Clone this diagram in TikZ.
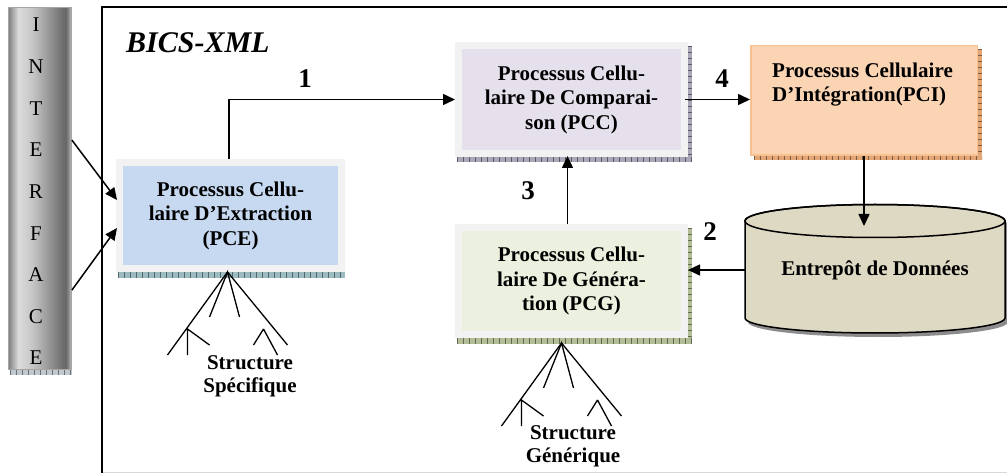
\documentclass[tikz,border=0pt]{standalone}
\usepackage{fontspec}
\setmainfont{Liberation Serif}
\usetikzlibrary{arrows.meta,calc}

\definecolor{ifA}{HTML}{808080}
\definecolor{ifB}{HTML}{DCDCDC}
\definecolor{ifC}{HTML}{C4C4C4}
\definecolor{ifD}{HTML}{666666}
\definecolor{ifE}{HTML}{8A8A8A}
\definecolor{ifF}{HTML}{CCCCCC}
\pgfdeclarehorizontalshading{ifaceshade}{100bp}{color(0bp)=(ifA); color(25bp)=(ifA); color(32.8bp)=(ifB); color(44.5bp)=(ifC); color(70.3bp)=(ifD); color(72.7bp)=(ifE); color(75bp)=(ifF); color(100bp)=(ifF)}

\definecolor{rim}{HTML}{F2F2F2}
\definecolor{pceFill}{HTML}{C6D9F1}
\definecolor{pccFill}{HTML}{E5E0EC}
\definecolor{pcgFill}{HTML}{EBF1DE}
\definecolor{pciFill}{HTML}{FBD4B4}
\definecolor{pciRim}{HTML}{F9BF8F}
\definecolor{cylFill}{HTML}{DDD9C3}
\definecolor{pceStrip}{HTML}{9DBCC2}
\definecolor{pccStrip}{HTML}{ABA6B8}
\definecolor{pcgStrip}{HTML}{B3BE96}
\definecolor{pciStrip}{HTML}{E3A676}
\definecolor{ifStrip}{HTML}{BFC9CF}

% hatched shadow strip: colour, start, end, thickness
\newcommand\tickstrip[4]{%
  \draw[#1, line width=#4] #2 -- #3;
  \draw[#1!55!black, line width=#4, dash pattern=on .7pt off 5.3pt] #2 -- #3;}

\tikzset{
  cell/.style={draw=rim, line width=7pt, align=center, inner sep=0pt,
    font=\fontsize{21}{24.5}\selectfont\bfseries},
  conn/.style={line width=1.5pt, -{Triangle[length=12pt,width=11pt]}},
  num/.style={font=\fontsize{27}{27}\selectfont\bfseries, inner sep=0pt},
  caption/.style={align=center, inner sep=0pt, font=\fontsize{21}{23}\selectfont\bfseries},
  pics/xtree/.style={code={
    \draw[line width=1.3pt] (-18,45) -- (0,0) -- (12,45);
    \draw[line width=1.3pt] (0,0) -- (-60,83) (-40,57) -- (-40,83) (-40,57) -- (-18,73);
    \draw[line width=1.3pt] (0,0) -- (60,73) (36,57) -- (26,73) (36,57) -- (50,83);
  }}
}

\begin{document}
\begin{tikzpicture}[x=1pt,y=-1pt]
\useasboundingbox (0,0) rectangle (1007,473);
\fill[white] (0,0) rectangle (1007,473);

% outer frame of the system
\draw[gray!30, line width=.8pt] (102,472) -- (1007,472);
\draw[line width=2pt] (102,474) -- (102,7) -- (1008,7);
\node[anchor=base west, inner sep=0pt, font=\fontsize{30}{30}\selectfont\bfseries\itshape]
  (title) at (126,53) {BICS-XML};

% interface bar
\node[draw=gray!70, line width=.8pt, shading=ifaceshade, minimum width=63pt, minimum height=362pt]
  (iface) at (40,188.5) {};
\tickstrip{ifStrip}{($(iface.south west)+(2,3)$)}{($(iface.south east)+(0,3)$)}{5pt}
\node[align=center, inner sep=0pt, font=\fontsize{21}{41.65}\selectfont]
  (ifacetext) at (36,191.5) {I\\N\\T\\E\\R\\F\\A\\C\\E};

% cellular processes
\node[cell, fill=pceFill, minimum width=222pt, minimum height=106pt] (pce) at (230.5,215.5)
  {Processus Cellu-\\laire D’Extraction\\(PCE)};
\node[cell, fill=pccFill, minimum width=226pt, minimum height=108pt] (pcc) at (571.5,99.5)
  {Processus Cellu-\\laire De Comparai-\\son (PCC)};
\node[cell, fill=pcgFill, minimum width=226pt, minimum height=107pt] (pcg) at (571.5,281)
  {Processus Cellu-\\laire De Généra-\\tion (PCG)};
\node[draw=pciRim, fill=pciFill, line width=1.5pt, minimum width=226.5pt, minimum height=109.5pt]
  (pci) at (864,100.5) {};
\node[anchor=north west, align=left, inner sep=0pt, font=\fontsize{21}{24.5}\selectfont\bfseries]
  (pcitext) at (772,62.5) {Processus Cellulaire\\D’Intégration(PCI)};

% shadow strips
\tickstrip{pceStrip}{($(pce.south west)+(2,3)$)}{($(pce.south east)+(0,3)$)}{6pt}
\tickstrip{pccStrip}{($(pcc.north east)+(2,4)$)}{($(pcc.south east)+(2,5)$)}{4pt}
\tickstrip{pccStrip}{($(pcc.south west)+(2,2.5)$)}{($(pcc.south east)+(4,2.5)$)}{5pt}
\tickstrip{pcgStrip}{($(pcg.north east)+(2,4)$)}{($(pcg.south east)+(2,6)$)}{4pt}
\tickstrip{pcgStrip}{($(pcg.south west)+(2,3)$)}{($(pcg.south east)+(4,3)$)}{6pt}
\tickstrip{pciStrip}{($(pci.north east)+(2,4)$)}{($(pci.south east)+(2,4)$)}{4pt}
\tickstrip{pciStrip}{($(pci.south west)+(4,2)$)}{($(pci.south east)+(4,2)$)}{4pt}

% data warehouse cylinder
\begin{scope}[shift={(3,4)}]
  \fill[black!45] (745,221) -- (745,318) arc[start angle=180, end angle=0, x radius=130, y radius=15]
    -- (1005,221) arc[start angle=0, end angle=-180, x radius=130, y radius=16.5] -- cycle;
\end{scope}
\draw[fill=cylFill, line width=1.5pt] (745,221) -- (745,318)
  arc[start angle=180, end angle=0, x radius=130, y radius=15]
  -- (1005,221) arc[start angle=0, end angle=-180, x radius=130, y radius=16.5] -- cycle;
\draw[line width=1.5pt] (875,221) ellipse[x radius=130, y radius=16.5];
\node[minimum width=260pt, minimum height=97pt, inner sep=0pt,
  font=\fontsize{21}{24.5}\selectfont\bfseries] (dw) at (875,270) {Entrepôt de Données};
\coordinate (dwtop) at (864,226);

% schema trees
\pic at ($(pce.south)+(-3,0)$) {xtree};
\pic at ($(pcg.south)+(-10,5)$) {xtree};
\node[caption] (spec) at (250,376) {Structure\\Spécifique};
\node[caption] (gen) at (573,446) {Structure\\Générique};

% flows
\draw[conn] ($(iface.north east)+(0,133)$) -- ($(pce.west)+(1,-15.5)$);
\draw[conn] ($(iface.north east)+(0,283)$) -- ($(pce.west)+(1,12.5)$);
\draw[conn] ($(pce.north)+(-1.5,0)$) |- (pcc.west);
\draw[conn] ($(pcc.east)+(-3,0)$) -- (pcc.east -| pci.west);
\draw[conn] (pci.south) -- (dwtop);
\draw[conn] (dw.west) -- (dw.west -| pcg.east);
\draw[conn] ($(pcg.north)+(-4,0)$) -- ($(pcc.south)+(-4,-1)$);

% step numbers
\node[num] (n1) at (305,79) {1};
\node[num] (n4) at (722,79) {4};
\node[num] (n3) at (528,191) {3};
\node[num] (n2) at (710,232) {2};
\end{tikzpicture}
\end{document}
